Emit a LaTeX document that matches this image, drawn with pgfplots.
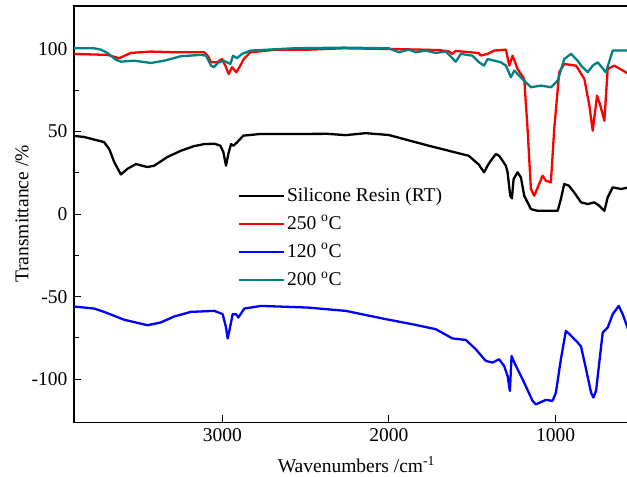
\documentclass[border=0pt]{standalone}
\usepackage{fontspec}
\setmainfont{Liberation Serif}
\usepackage{pgfplots}
\pgfplotsset{compat=1.18}

\definecolor{SpecRed}{RGB}{255,0,0}
\definecolor{SpecBlue}{RGB}{0,0,255}
\definecolor{SpecTeal}{RGB}{0,128,128}

\begin{document}
\fontsize{19.5bp}{22bp}\selectfont
\begin{tikzpicture}
\begin{axis}[
  scale only axis,
  width=553bp, height=415.7bp,
  x dir=reverse,
  xmin=567, xmax=3890,
  ymin=-126, ymax=126,
  xtick={1000,2000,3000},
  ytick={-100,-50,0,50,100},
  minor ytick={-75,-25,25,75},
  xtick pos=lower, ytick pos=left,
  tick align=inside,
  major tick length=7bp, minor tick length=4.5bp,
  every tick/.style={black, line width=1bp},
  axis line style={line width=1.3bp},
  /pgf/number format/assume math mode=true,
  scaled x ticks=false,
  xticklabel style={/pgf/number format/1000 sep={}},
  xlabel={Wavenumbers /cm\textsuperscript{-1}},
  ylabel={Transmittance /\%},
  xlabel style={at={(axis description cs:0.51,-0.121)}, anchor=base},
  ylabel style={at={(axis description cs:-0.094,0.5)}, anchor=center},
  legend cell align=left,
  legend style={draw=none, fill=none, at={(axis description cs:0.29,0.574)},
    anchor=north west, row sep=7.3bp,
    nodes={inner sep=2bp}},
  legend image code/.code={\draw[#1, line width=2.2bp] (0bp,0bp) -- (45bp,0bp);},
  every axis plot/.append style={line width=2.3bp, line join=round},
]
\coordinate (sw) at (axis description cs:0,0);
\coordinate (ne) at (axis description cs:1,1);

% Silicone resin, room temperature
\addplot[black] coordinates {
(3895,47.4) (3830,46.7) (3710,43.6) (3679,39.4) (3649,31.5) (3609,24.0)
(3571,27.3) (3519,30.3) (3451,28.5) (3409,29.3) (3331,34.5) (3248,38.4)
(3168,41.2) (3108,42.4) (3048,42.6) (3012,41.4) (2994,37.6) (2978,29.3)
(2964,36.4) (2948,42.4) (2934,41.4) (2912,43.4) (2874,47.5) (2772,48.5)
(2573,48.5) (2369,48.6) (2260,47.8) (2140,49.0) (2002,47.9) (1761,41.4)
(1521,35.3) (1461,30.0) (1429,25.3) (1408,29.3) (1389,32.3) (1358,36.4)
(1339,35.3) (1318,32.3) (1298,29.3) (1288,25.3) (1272,11.1) (1262,9.5)
(1252,21.2) (1228,25.3) (1208,22.2) (1188,11.1) (1148,3.0) (1108,2.0)
(987,2.0) (968,9.1) (948,18.2) (920,17.2) (888,13.1) (847,7.1)
(807,6.1) (767,7.1) (737,5.0) (707,2.0) (687,10.1) (657,16.2)
(607,15.2) (560,16.2)
};
\addlegendentry{Silicone Resin (RT)}

% 250 C
\addplot[SpecRed] coordinates {
(3895,97.0) (3690,96.4) (3619,94.4) (3549,97.6) (3429,98.4) (3289,98.0)
(3108,98.0) (3088,95.9) (3068,91.9) (3032,91.9) (3002,93.9) (2982,89.9)
(2962,84.8) (2942,88.9) (2916,85.9) (2892,89.9) (2872,93.9) (2832,98.0)
(2671,99.6) (2471,99.6) (2272,100.4) (1900,99.8) (1700,99.3) (1640,98.5)
(1619,97.0) (1600,98.8) (1461,97.5) (1449,96.0) (1408,97.0) (1369,99.0)
(1298,99.6) (1278,89.9) (1258,95.9) (1228,87.9) (1188,81.8) (1168,51.5)
(1148,15.2) (1128,11.1) (1078,23.2) (1058,20.2) (1028,19.2) (1008,51.5)
(978,85.9) (948,90.9) (877,89.9) (827,81.8) (797,65.6) (777,50.5)
(751,71.7) (731,65.6) (707,56.5) (687,87.9) (647,89.9) (560,84.8)
};
\addlegendentry{250 \textsuperscript{o}C}

% 120 C
\addplot[SpecBlue] coordinates {
(3895,-55.9) (3770,-57.2) (3710,-59.2) (3589,-64.0) (3449,-67.3) (3369,-65.6)
(3289,-62.0) (3188,-59.2) (3048,-58.6) (2998,-60.6) (2978,-68.7) (2968,-75.3)
(2954,-68.7) (2938,-60.6) (2918,-60.6) (2904,-62.6) (2868,-57.2) (2767,-55.6)
(2487,-56.6) (2260,-58.6) (2020,-63.6) (1859,-66.7) (1719,-69.7) (1619,-75.3)
(1539,-76.2) (1479,-81.8) (1419,-88.9) (1378,-89.9) (1339,-87.9) (1309,-91.9)
(1288,-98.0) (1274,-107.1) (1264,-85.9) (1248,-89.9) (1198,-100.0) (1138,-113.1)
(1118,-115.2) (1058,-112.5) (1018,-113.1) (998,-108.1) (968,-87.9) (938,-70.7)
(907,-73.7) (887,-75.8) (867,-77.8) (847,-80.2) (817,-93.9) (787,-108.1)
(773,-111.1) (757,-107.1) (717,-71.7) (687,-68.7) (657,-60.6) (621,-55.6)
(597,-60.6) (560,-71.0)
};
\addlegendentry{120 \textsuperscript{o}C}

% 200 C
\addplot[SpecTeal] coordinates {
(3895,100.5) (3770,100.4) (3729,99.6) (3690,97.6) (3639,93.5) (3609,92.3)
(3529,92.9) (3429,91.5) (3349,92.9) (3248,95.6) (3128,96.4) (3098,95.9)
(3068,89.9) (3052,88.9) (3022,91.9) (2992,92.9) (2972,91.9) (2952,90.9)
(2936,95.9) (2912,94.4) (2882,97.0) (2832,99.0) (2571,100.4) (2271,100.8)
(2002,100.4) (1940,98.0) (1880,99.6) (1840,98.0) (1779,99.0) (1719,97.6)
(1659,98.4) (1599,92.3) (1569,97.0) (1499,95.9) (1459,91.9) (1429,89.9)
(1408,93.9) (1328,91.9) (1298,89.9) (1268,82.8) (1248,86.9) (1208,82.8)
(1148,76.8) (1088,77.8) (1028,76.8) (987,80.8) (948,93.9) (907,97.0)
(867,92.9) (847,89.9) (807,85.9) (777,89.9) (747,91.9) (698,85.9)
(657,99.0) (560,99.0)
};
\addlegendentry{200 \textsuperscript{o}C}
\end{axis}
\pgfresetboundingbox
\path[use as bounding box] ([xshift=-74bp,yshift=-54.3bp]sw) rectangle ([xshift=-0.7bp,yshift=6bp]ne);
\end{tikzpicture}
\end{document}
